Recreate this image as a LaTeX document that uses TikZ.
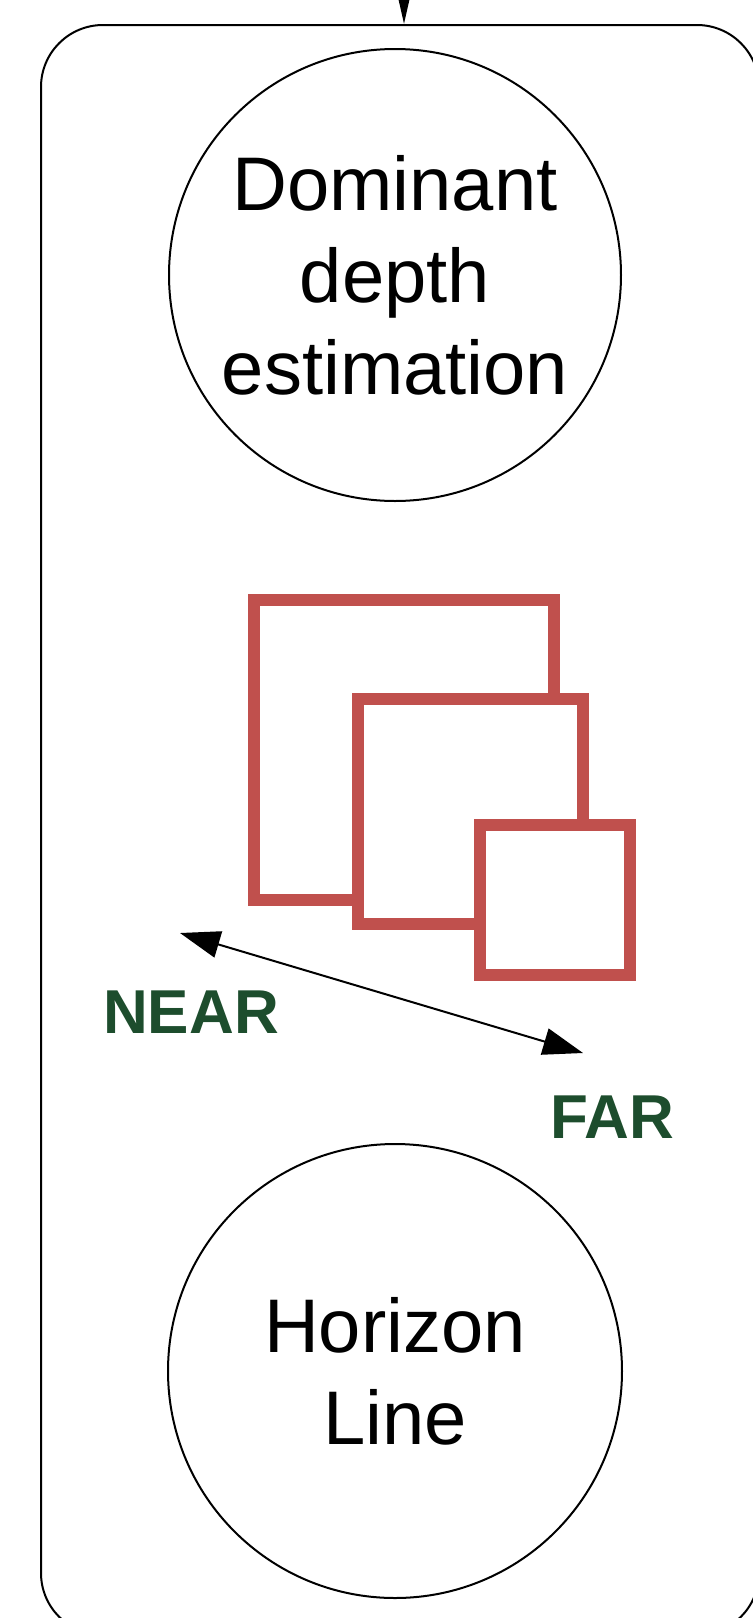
\documentclass[tikz,border=0pt]{standalone}
\usepackage{fontspec}
\setmainfont{Liberation Sans}
\usepackage{tikz}
\usetikzlibrary{arrows.meta, positioning}
\definecolor{cred}{RGB}{192,80,77}
\definecolor{cgreen}{RGB}{29,77,45}

\begin{document}
\begin{tikzpicture}[
  x=0.5pt, y=-0.5pt,
  panel/.style  = {rectangle, rounded corners=31pt, draw, line width=1pt,
                   minimum width=359pt, minimum height=805pt},
  stage/.style  = {circle, draw, line width=1pt, minimum size=#1,
                   inner sep=0pt, align=center,
                   font=\fontsize{38}{46}\selectfont},
  sq/.style     = {rectangle, draw=cred, line width=6pt, fill=white,
                   minimum size=#1, inner sep=0pt},
  arr/.style    = {-{Triangle[length=14pt, width=6pt]}, line width=1pt},
  darr/.style   = {{Triangle[length=20pt, width=13.5pt]}-{Triangle[length=20pt, width=13.5pt]},
                   line width=1pt},
  distlbl/.style= {font=\fontsize{31}{37}\selectfont\bfseries, text=cgreen},
]
\useasboundingbox (0,0) rectangle (752,1618);
% Outer frame and incoming arrow
\node[panel] (panel) at (400,830) {};
\coordinate (src) at (404,-30);
\draw[arr] (src) -- (src |- panel.north);
% Circles
\node[stage=226pt] (depth) at (395,275) {Dominant\\depth\\estimation};
\node[stage=227pt, below=320.5pt of depth] (horizon) {Horizon\\Line};
% Nested squares (big to small)
\node[sq=150pt]   (big)   at (403.5,749.5) {};
\node[sq=112.5pt] (mid)   at (470,811.5)   {};
\node[sq=75pt]    (small) at (554.5,899.5) {};
% Near / far arrow
\coordinate (nearpt) at (180,933);
\coordinate (farpt)  at (583,1053);
\draw[darr] (nearpt) -- (farpt);
\node[distlbl] (near) at (191,1012) {NEAR};
\node[distlbl] (far)  at (612,1117) {FAR};
\end{tikzpicture}
\end{document}
